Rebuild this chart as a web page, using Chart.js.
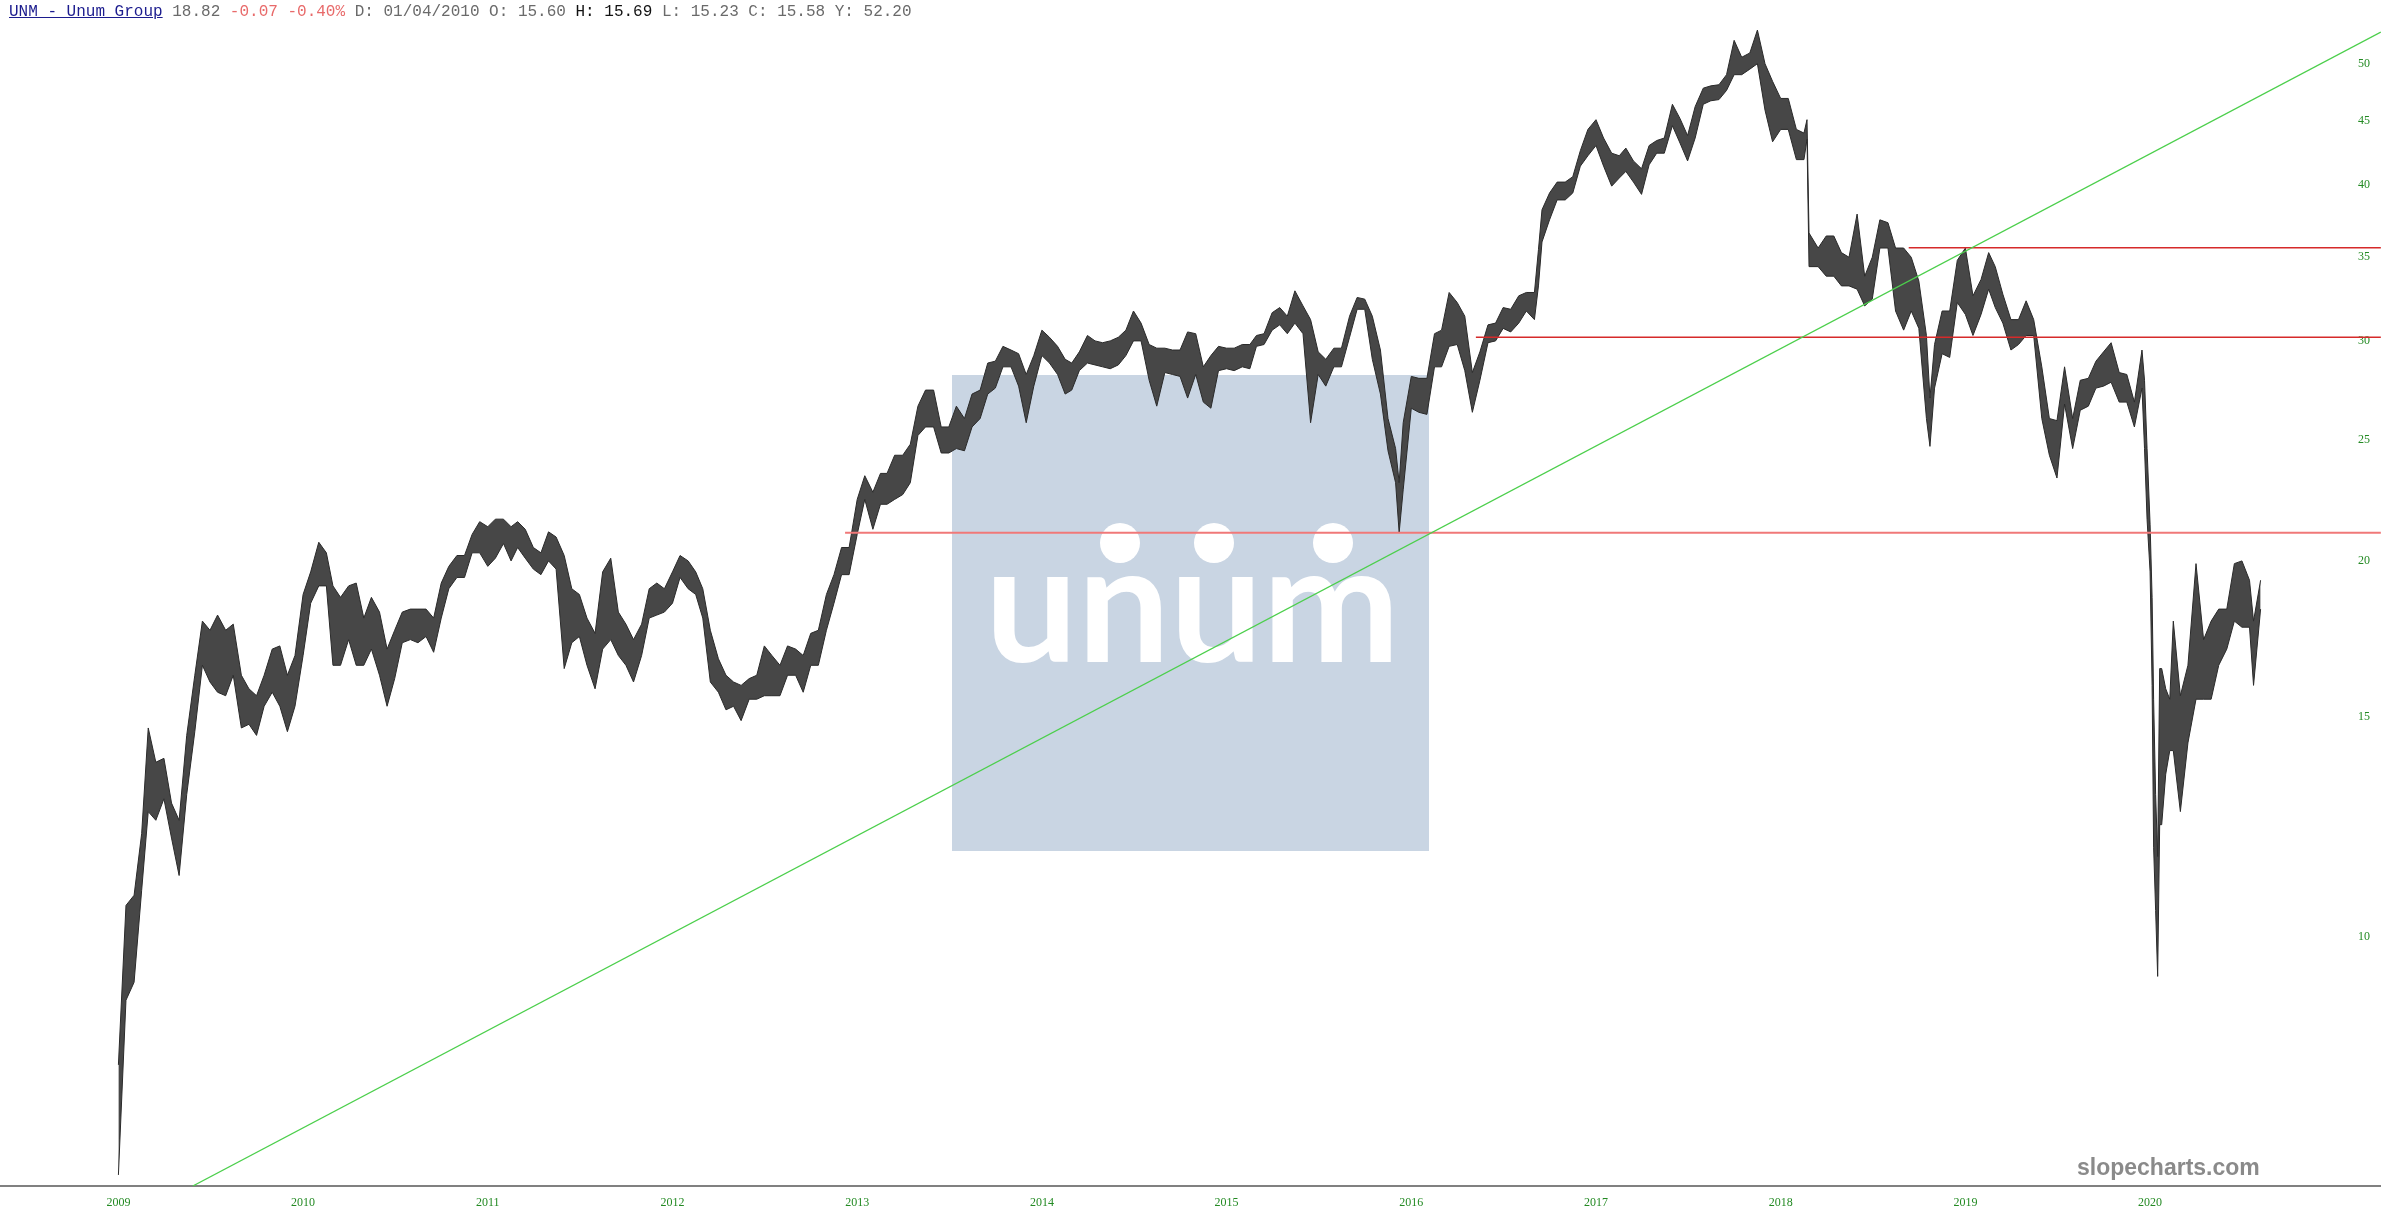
<!DOCTYPE html>
<html lang="en">
<head>
<meta charset="UTF-8">
<title>UNM - Unum Group</title>
<script src="https://cdn.jsdelivr.net/npm/chart.js"></script>
<style>
  html, body { margin: 0; padding: 0; background: #fff; overflow: hidden; }
  .wrap { position: relative; width: 2381px; height: 1227px; }
  /* logo panel sits behind the transparent chart canvas */
  .logo { position: absolute; left: 952px; top: 375px; width: 477px; height: 476px; background: #c9d5e3; }
  .logo svg { filter: blur(0.6px); }
  .chart-box { position: absolute; left: 0; top: 0; width: 2381px; height: 1227px; }
  .header { position: absolute; left: 9px; top: 3px; font-family: 'Liberation Mono', 'Courier New', monospace; font-size: 16px; color: #6a6a6a; white-space: pre; }
  .header .sym { color: #1c1c8e; text-decoration: underline; }
  .header .neg { color: #e86a6a; }
  .header .hi { color: #111; }
  .brand { position: absolute; left: 2077px; top: 1154px; font-family: 'Liberation Sans', Arial, sans-serif; font-weight: bold; font-size: 23px; color: #8a8a8a; }
</style>
</head>
<body>
<div class="wrap">
  <div class="logo">
    <svg width="477" height="476">
      <text x="33" y="287" textLength="415" lengthAdjust="spacingAndGlyphs" font-family="Lato" font-weight="bold" font-size="165" fill="#fff">unum</text>
      <circle cx="168" cy="168" r="20" fill="#fff"/>
      <circle cx="262" cy="168" r="20" fill="#fff"/>
      <circle cx="381" cy="168" r="20" fill="#fff"/>
    </svg>
  </div>
  <div class="chart-box"><canvas id="chart"></canvas></div>
  <div class="header"><span class="sym">UNM - Unum Group</span> 18.82 <span class="neg">-0.07 -0.40%</span> D: 01/04/2010 O: 15.60 <span class="hi">H: 15.69</span> L: 15.23 C: 15.58 Y: 52.20</div>
  <div class="brand">slopecharts.com</div>
</div>

<script>
// price bars, roughly two per month (high / low)
const dates = [
  '2009-01-01','2009-01-16','2009-02-01','2009-02-16','2009-03-01','2009-03-16','2009-04-01','2009-04-16','2009-05-01','2009-05-16','2009-06-01','2009-06-16',
  '2009-07-01','2009-07-16','2009-08-01','2009-08-16','2009-09-01','2009-09-16','2009-10-01','2009-10-16','2009-11-01','2009-11-16','2009-12-01','2009-12-16',
  '2010-01-01','2010-01-16','2010-02-01','2010-02-16','2010-03-01','2010-03-16','2010-04-01','2010-04-16','2010-05-01','2010-05-16','2010-06-01','2010-06-16',
  '2010-07-01','2010-07-16','2010-08-01','2010-08-16','2010-09-01','2010-09-16','2010-10-01','2010-10-16','2010-11-01','2010-11-16','2010-12-01','2010-12-16',
  '2011-01-01','2011-01-16','2011-02-01','2011-02-16','2011-03-01','2011-03-16','2011-04-01','2011-04-16','2011-05-01','2011-05-16','2011-06-01','2011-06-16',
  '2011-07-01','2011-07-16','2011-08-01','2011-08-16','2011-09-01','2011-09-16','2011-10-01','2011-10-16','2011-11-01','2011-11-16','2011-12-01','2011-12-16',
  '2012-01-01','2012-01-16','2012-02-01','2012-02-16','2012-03-01','2012-03-16','2012-04-01','2012-04-16','2012-05-01','2012-05-16','2012-06-01','2012-06-16',
  '2012-07-01','2012-07-16','2012-08-01','2012-08-16','2012-09-01','2012-09-16','2012-10-01','2012-10-16','2012-11-01','2012-11-16','2012-12-01','2012-12-16',
  '2013-01-01','2013-01-16','2013-02-01','2013-02-16','2013-03-01','2013-03-16','2013-04-01','2013-04-16','2013-05-01','2013-05-16','2013-06-01','2013-06-16',
  '2013-07-01','2013-07-16','2013-08-01','2013-08-16','2013-09-01','2013-09-16','2013-10-01','2013-10-16','2013-11-01','2013-11-16','2013-12-01','2013-12-16',
  '2014-01-01','2014-01-16','2014-02-01','2014-02-16','2014-03-01','2014-03-16','2014-04-01','2014-04-16','2014-05-01','2014-05-16','2014-06-01','2014-06-16',
  '2014-07-01','2014-07-16','2014-08-01','2014-08-16','2014-09-01','2014-09-16','2014-10-01','2014-10-16','2014-11-01','2014-11-16','2014-12-01','2014-12-16',
  '2015-01-01','2015-01-16','2015-02-01','2015-02-16','2015-03-01','2015-03-16','2015-04-01','2015-04-16','2015-05-01','2015-05-16','2015-06-01','2015-06-16',
  '2015-07-01','2015-07-16','2015-08-01','2015-08-16','2015-09-01','2015-09-16','2015-10-01','2015-10-16','2015-11-01','2015-11-16','2015-12-01','2015-12-08','2015-12-16',
  '2016-01-01','2016-01-16','2016-02-01','2016-02-16','2016-03-01','2016-03-16','2016-04-01','2016-04-16','2016-05-01','2016-05-16','2016-06-01','2016-06-16',
  '2016-07-01','2016-07-16','2016-08-01','2016-08-16','2016-09-01','2016-09-09','2016-09-16','2016-10-01','2016-10-16','2016-11-01','2016-11-16','2016-12-01','2016-12-16',
  '2017-01-01','2017-01-16','2017-02-01','2017-02-16','2017-03-01','2017-03-16','2017-04-01','2017-04-16','2017-05-01','2017-05-16','2017-06-01','2017-06-16',
  '2017-07-01','2017-07-16','2017-08-01','2017-08-16','2017-09-01','2017-09-16','2017-10-01','2017-10-16','2017-11-01','2017-11-16','2017-12-01','2017-12-16',
  '2018-01-01','2018-01-16','2018-02-01','2018-02-16','2018-02-22','2018-02-26','2018-03-16','2018-04-01','2018-04-16','2018-05-01','2018-05-16','2018-06-01','2018-06-16',
  '2018-07-01','2018-07-16','2018-08-01','2018-08-16','2018-09-01','2018-09-16','2018-10-01','2018-10-16','2018-10-23','2018-11-01','2018-11-16','2018-12-01','2018-12-16',
  '2019-01-01','2019-01-16','2019-02-01','2019-02-16','2019-03-01','2019-03-16','2019-04-01','2019-04-16','2019-05-01','2019-05-16','2019-06-01','2019-06-16',
  '2019-07-01','2019-07-16','2019-08-01','2019-08-16','2019-09-01','2019-09-16','2019-10-01','2019-10-16','2019-11-01','2019-11-16','2019-12-01','2019-12-16','2019-12-21','2019-12-26',
  '2020-01-01','2020-01-05','2020-01-08','2020-01-12','2020-01-16','2020-01-20','2020-01-24','2020-02-01','2020-02-09','2020-02-16','2020-03-01','2020-03-16',
  '2020-04-01','2020-04-16','2020-05-01','2020-05-16','2020-06-01','2020-06-16','2020-07-01','2020-07-16','2020-07-24','2020-08-07'
];

const highs = [
  7.9,10.6,10.8,12.1,14.7,13.8,13.9,12.8,12.4,14.5,16.2,17.9, 17.6,18.1,17.6,17.8,16.2,15.8,15.6,16.2,17.0,17.1,16.2,16.8,
  18.8,19.6,20.7,20.3,19.1,18.7,19.1,19.2,18.0,18.7,18.2,17.0, 17.6,18.2,18.3,18.3,18.3,18.0,19.2,19.8,20.2,20.2,21.0,21.5,
  21.3,21.6,21.6,21.3,21.5,21.2,20.5,20.3,21.1,20.9,20.2,19.0, 18.8,18.0,17.5,19.6,20.1,18.2,17.8,17.3,17.8,19.0,19.2,19.0,
  19.6,20.2,20.0,19.6,19.0,17.6,16.7,16.2,16.0,15.9,16.1,16.2, 17.1,16.8,16.5,17.1,17.0,16.8,17.5,17.6,18.8,19.5,20.5,20.5,
  22.4,23.4,22.7,23.5,23.5,24.3,24.3,24.8,26.6,27.4,27.4,25.6, 25.6,26.6,26.0,27.2,27.4,28.8,28.9,29.7,29.5,29.3,28.2,29.2,
  30.6,30.2,29.7,29.0,28.8,29.4,30.3,30.0,29.9,30.0,30.2,30.6, 31.7,31.0,29.8,29.6,29.6,29.5,29.5,30.5,30.4,28.6,29.2,29.7,
  29.6,29.6,29.8,29.8,30.3,30.4,31.6,31.9,31.4,32.9,32.0,31.2, 29.4,29.0,29.6,29.6,31.4,32.5,32.4,31.4,29.5,26.0,24.6,23.1,25.8,
  28.1,28.0,28.0,30.4,30.6,32.8,32.2,31.4,28.3,29.4,30.9,31.0, 31.9,31.8,32.6,32.8,32.8,35.5,38.2,39.4,40.2,40.2,40.6,42.6,44.3,
  45.1,43.6,42.4,42.2,42.8,41.8,41.2,43.0,43.4,43.6,46.4,45.2, 43.8,46.2,47.8,48.0,48.1,49.0,52.2,50.6,51.0,53.2,50.0,48.4,
  46.9,46.9,44.3,44.0,45.1,36.6,35.6,36.4,36.4,35.3,35.0,37.9,33.8, 35.0,37.5,37.3,35.6,35.6,35.0,33.5,30.3,27.0,29.8,31.7,31.7,34.8,
  35.6,32.6,33.6,35.3,34.4,32.7,31.2,31.2,32.3,31.2,28.6,26.0, 25.9,28.6,26.0,27.9,28.0,28.9,29.4,29.9,28.3,28.2,26.8,29.5,27.9,24.6,
  21.4,18.7,15.5,13.0,11.6,16.4,16.4,15.8,15.5,17.9,15.6,16.5, 19.9,17.3,17.9,18.3,18.3,19.9,20.0,19.3,17.9,19.3
];

const lows = [
  6.45,8.9,9.2,10.9,12.6,12.4,12.9,12.0,11.2,13.0,14.6,16.5, 16.0,15.7,15.6,16.2,14.7,14.8,14.5,15.3,15.7,15.3,14.6,15.3,
  16.8,18.5,19.1,19.1,16.5,16.5,17.3,16.5,16.5,17.0,16.2,15.3, 16.1,17.2,17.3,17.2,17.4,16.9,18.0,19.0,19.4,19.4,20.3,20.3,
  19.8,20.1,20.65,20.0,20.5,20.1,19.7,19.5,20.0,19.7,16.4,17.2, 17.4,16.5,15.8,17.0,17.3,16.8,16.5,16.0,16.8,18.0,18.1,18.2,
  18.5,19.4,19.0,18.8,18.0,16.0,15.7,15.2,15.3,14.9,15.5,15.5, 15.6,15.6,15.6,16.2,16.2,15.7,16.5,16.5,17.6,18.5,19.5,19.5,
  21.0,22.4,21.2,22.2,22.2,22.4,22.6,23.1,25.2,25.6,25.6,24.4, 24.4,24.6,24.5,25.6,26.0,27.2,27.5,28.6,28.6,27.6,25.8,27.6,
  29.2,28.8,28.2,27.2,27.4,28.4,28.8,28.7,28.6,28.5,28.7,29.2, 30.0,30.0,27.9,26.6,28.3,28.2,28.1,27.0,28.2,26.8,26.5,28.4,
  28.5,28.4,28.6,28.5,29.7,29.8,30.6,30.9,30.4,31.0,30.4,25.8, 28.2,27.6,28.6,28.6,30.2,31.8,31.8,29.0,27.2,24.5,23.1,21.07,22.8,
  26.5,26.3,26.2,28.6,28.6,29.7,29.8,28.4,26.3,27.9,29.9,30.0, 30.7,30.5,31.0,31.7,31.2,33.2,36.0,37.5,38.9,38.9,39.4,41.4,42.2,
  43.0,41.4,39.9,40.5,41.0,40.2,39.3,41.5,42.4,42.4,44.6,43.2, 41.8,43.6,46.4,46.7,46.8,47.6,49.0,49.0,49.5,50.0,45.9,43.3,
  44.3,44.3,41.9,41.9,43.5,34.4,34.4,33.8,33.8,33.2,33.2,33.0,32.0, 32.4,35.6,35.6,31.7,30.6,31.7,30.7,26.0,24.7,27.5,29.3,29.1,32.2,
  31.5,30.3,31.5,33.0,31.9,31.0,29.5,29.8,30.3,30.3,26.0,24.3, 23.3,26.7,24.6,26.4,26.6,27.5,27.6,27.8,26.8,26.8,25.6,27.5,24.6,21.6,
  19.6,15.9,11.8,10.5,9.3,12.3,12.3,13.5,14.1,14.1,12.6,14.3, 15.5,15.5,15.5,16.5,17.0,17.9,17.7,17.7,15.9,18.3
];

// axis ticks
const yearTicks = [2009, 2010, 2011, 2012, 2013, 2014, 2015, 2016, 2017, 2018, 2019, 2020];
const priceTicks = [10, 15, 20, 25, 30, 35, 40, 45, 50];

// drawn studies: one trendline and three horizontal levels
const trendDates = ['2009-05-28', '2021-04-02'];
const trendPrices = [6.32, 53.0];
const levelPrices = [21.07, 30.2, 35.62];
const levelStarts = ['2012-12-08', '2016-05-08', '2018-09-11'];
const levelEnd = '2021-04-02';

// visible range
const xMin = 2008.359, xMax = 2021.2502;
const yMin = 6.32, yMax = 56.23;

function toYear(s) {
  const [y, m, d] = s.split('-').map(Number);
  const start = Date.UTC(y, 0, 1), end = Date.UTC(y + 1, 0, 1);
  return y + (Date.UTC(y, m - 1, d) - start) / (end - start);
}

const series = vals => dates.map((d, i) => ({ x: toYear(d), y: vals[i] }));

const levelSets = levelPrices.map((p, i) => ({
  label: 'level ' + p,
  data: [{ x: toYear(levelStarts[i]), y: p }, { x: toYear(levelEnd), y: p }],
  borderColor: i === 0 ? '#f07878' : '#d62a2a',
  borderWidth: i === 0 ? 2 : 1.4,
  pointRadius: 0, fill: false, order: 1
}));

const tickFont = { family: "'Liberation Serif', 'Times New Roman', serif", size: 12 };
const tickColor = '#238a23';

new Chart(document.getElementById('chart'), {
  type: 'line',
  data: {
    datasets: [
      { label: 'High', data: series(highs), borderColor: '#2a2a2a', borderWidth: 1, pointRadius: 0, fill: false, order: 2 },
      { label: 'Low', data: series(lows), borderColor: '#2a2a2a', borderWidth: 1, pointRadius: 0,
        backgroundColor: '#474747', fill: '-1', order: 2 },
      { label: 'Trend', data: trendDates.map((d, i) => ({ x: toYear(d), y: trendPrices[i] })),
        borderColor: '#4ccf4c', borderWidth: 1.3, pointRadius: 0, fill: false, order: 1 },
      ...levelSets
    ]
  },
  options: {
    responsive: true, maintainAspectRatio: false, animation: false, devicePixelRatio: 1,
    events: [],
    layout: { autoPadding: false, padding: 0 },
    plugins: { legend: { display: false }, tooltip: { enabled: false } },
    elements: { line: { tension: 0 } },
    scales: {
      x: {
        type: 'linear', min: xMin, max: xMax,
        afterBuildTicks: s => { s.ticks = yearTicks.map(v => ({ value: v })); },
        afterFit: s => { s.height = 41; s.paddingLeft = 0; s.paddingRight = 0; },
        grid: { display: false, drawTicks: false },
        border: { display: true, color: '#808080', width: 2 },
        ticks: { color: tickColor, font: tickFont, padding: 10, maxRotation: 0, autoSkip: false, callback: v => String(v) }
      },
      y: {
        type: 'logarithmic', position: 'right', min: yMin, max: yMax,
        afterBuildTicks: s => { s.ticks = priceTicks.map(v => ({ value: v })); },
        afterFit: s => { s.width = 0; s.paddingTop = 0; s.paddingBottom = 0; },
        grid: { display: false, drawTicks: false },
        border: { display: false },
        ticks: { color: tickColor, font: tickFont, mirror: true, padding: -11, autoSkip: false, callback: v => String(v) }
      }
    }
  }
});
</script>
</body>
</html>
